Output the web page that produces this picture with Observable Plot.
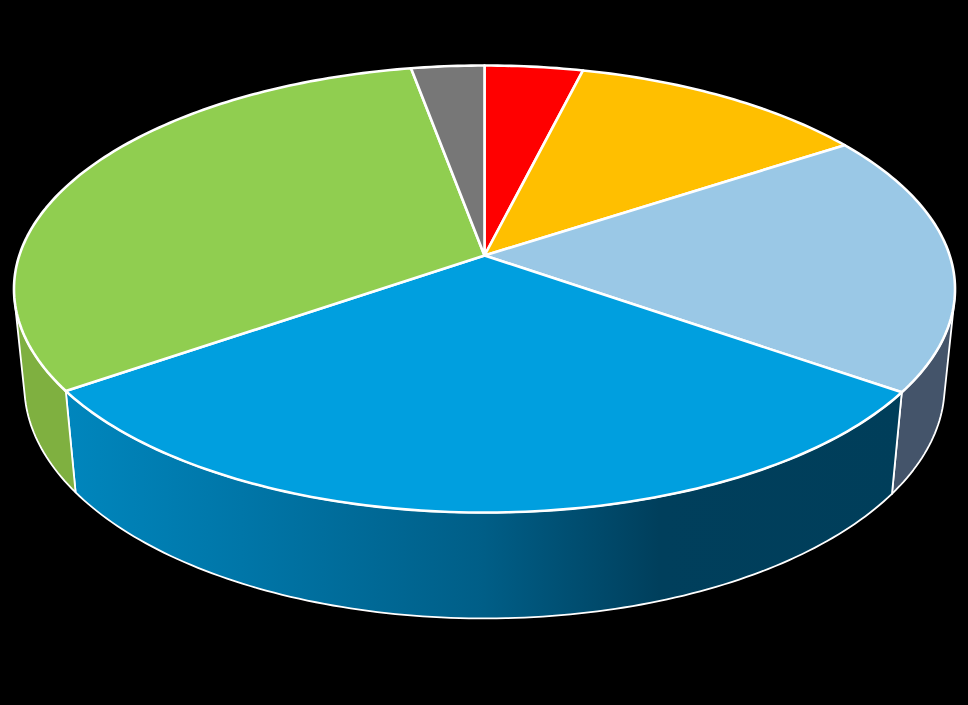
<!DOCTYPE html>
<html>
<head>
<meta charset="utf-8">
<style>html,body{margin:0;padding:0;background:#000;overflow:hidden}svg{display:block}</style>
<script src="https://cdn.jsdelivr.net/npm/d3@7"></script>
<script src="https://cdn.jsdelivr.net/npm/@observablehq/plot@0.6"></script>
</head>
<body>
<script>
// Slices clockwise from twelve o'clock
const shares = [3.9, 11.9, 18.9, 30.7, 31.7, 2.9];
const topColors = ["#FF0000", "#FFBF00", "#9AC8E6", "#009FDF", "#90CE50", "#777777"];
const wallColors = [null, null, "#44546A", "url(#blueWall)", "#7FB040", null];
const wallStopOffsets = [0, 0.21, 0.5, 0.71, 1];
const wallStopColors = ["#0086BD", "#0076A8", "#005E87", "#003F5C", "#003E5A"];

// Perspective model of the tilted disc, in picture units
const view = {cx: 484, cy: 255, a: 465.2, b: 218.5, k: 0.15, m: 0.022, depth: 98};
const horizonDeg = [101, 259]; // part of the rim that faces the viewer

function project(deg, z) {
  const t = deg * Math.PI / 180, X = Math.sin(t), Y = Math.cos(t);
  const w = 1 + view.k * Y + view.m * z;
  return {x: view.cx + view.a * X / w, y: view.cy + (-view.b * Y + view.depth * z) / w};
}
function arc(a0, a1, z) {
  const n = Math.max(2, Math.ceil(Math.abs(a1 - a0)));
  return d3.range(n + 1).map(i => project(a0 + (a1 - a0) * i / n, z));
}

const total = d3.sum(shares);
const cum = d3.cumsum(shares);
const slices = shares.map((s, i) => ({
  start: (cum[i] - s) / total * 360,
  end: cum[i] / total * 360,
  top: topColors[i],
  wall: wallColors[i]
}));

const walls = slices.filter(s => s.wall).map(s => {
  const a0 = Math.max(s.start, horizonDeg[0]), a1 = Math.min(s.end, horizonDeg[1]);
  const pts = [...arc(a0, a1, 0), ...arc(a1, a0, 1)];
  pts.push(pts[0]);
  return Plot.line(pts, {x: "x", y: "y", fill: s.wall, stroke: "#fff", strokeWidth: 1.8, strokeLinejoin: "round"});
});
const faces = slices.map(s => {
  const pts = [{x: view.cx, y: view.cy}, ...arc(s.start, s.end, 0), {x: view.cx, y: view.cy}];
  return Plot.line(pts, {x: "x", y: "y", fill: s.top, stroke: "#fff", strokeWidth: 2.6, strokeLinejoin: "round"});
});

const defs = () => {
  const svg = d3.create("svg:defs");
  const g = svg.append("linearGradient").attr("id", "blueWall");
  wallStopOffsets.forEach((o, i) => g.append("stop").attr("offset", o).attr("stop-color", wallStopColors[i]));
  return svg.node();
};

document.body.append(Plot.plot({
  width: 968, height: 705,
  margin: 0,
  style: {background: "#000"},
  x: {domain: [0, 968], range: [0, 968], axis: null},
  y: {domain: [0, 705], range: [0, 705], axis: null},
  marks: [defs, ...walls, ...faces]
}));
</script>
</body>
</html>
